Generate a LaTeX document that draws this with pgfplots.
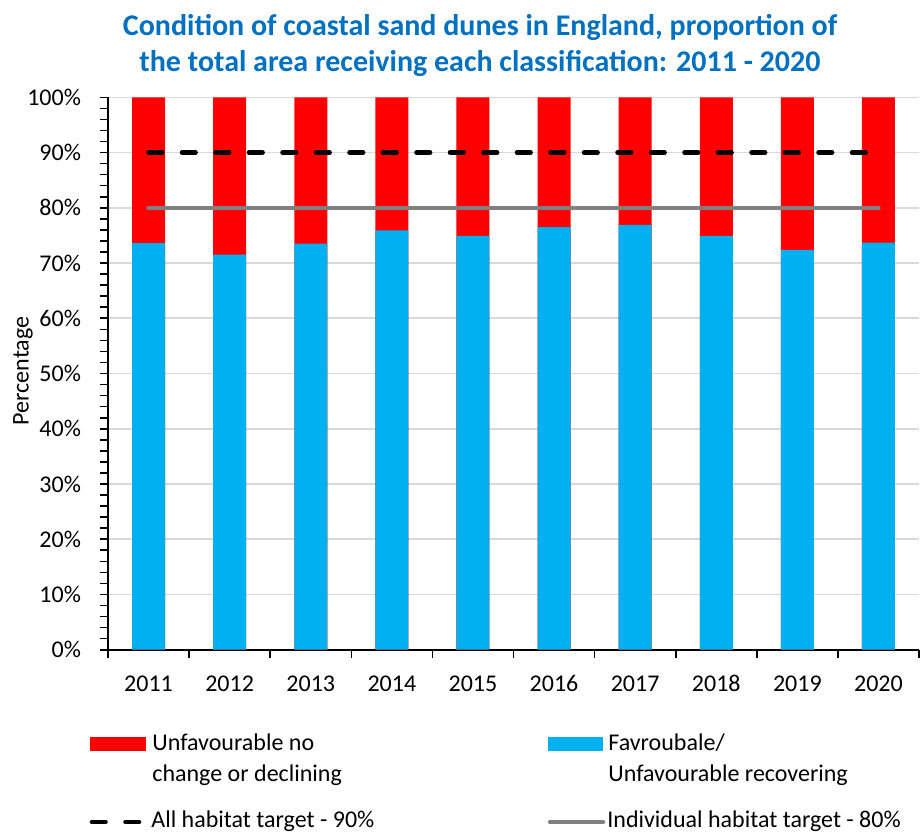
\documentclass[border=0pt]{standalone}
\usepackage{pgfplots}
\pgfplotsset{compat=1.18}
\usepackage{fontspec}
\setmainfont{Carlito}
\definecolor{cred}{HTML}{FF0000}
\definecolor{cblue}{HTML}{00B0F0}
\definecolor{ctitle}{HTML}{0070C0}
\definecolor{cgrey}{HTML}{808080}
\definecolor{cgrid}{HTML}{D9D9D9}
\begin{document}
\begin{tikzpicture}
\begin{scope}[x=0.5pt,y=-0.5pt]
\path[use as bounding box] (0,0) rectangle (923,832);
\end{scope}
\begin{axis}[
  at={(54pt,-324.85pt)}, anchor=south west,
  scale only axis, width=405.5pt, height=276.2pt,
  xmin=-0.5, xmax=9.5, ymin=0, ymax=100,
  axis x line*=bottom, axis y line*=left,
  axis line style={-, line width=0.8pt, black},
  xtick={0,...,9},
  xticklabels={2011,2012,2013,2014,2015,2016,2017,2018,2019,2020},
  major x tick style={draw=none},
  minor xtick={-0.5,0.5,...,9.5},
  ytick={0,10,...,100},
  minor y tick num=4,
  tick align=outside,
  major tick length=4pt, minor tick length=4pt,
  every tick/.style={black, line width=0.8pt},
  yticklabel={\pgfmathprintnumber{\tick}\%},
  ymajorgrids,
  major grid style={cgrid, line width=0.8pt},
  tick label style={font=\fontsize{12}{14}\selectfont},
  xticklabel style={text height=8.5pt, text depth=0pt, yshift=-5pt},
  yticklabel style={xshift=-6pt},
  /pgf/number format/assume math mode=true,
  clip=false,
]
\addplot[ybar, bar width=16.5pt, bar shift=0pt, fill=cred, draw=none]
  coordinates {(0,100) (1,100) (2,100) (3,100) (4,100) (5,100) (6,100) (7,100) (8,100) (9,100)};
\addplot[ybar, bar width=16.5pt, bar shift=0pt, fill=cblue, draw=none]
  coordinates {(0,73.6) (1,71.5) (2,73.5) (3,75.9) (4,74.9) (5,76.5) (6,76.9) (7,74.9) (8,72.4) (9,73.7)};
\addplot[sharp plot, black, line width=2.3pt, line cap=round, dash pattern=on 6.75pt off 10pt]
  coordinates {(0,90) (1,90) (2,90) (3,90) (4,90) (5,90) (6,90) (7,90) (8,90) (9,90)};
\addplot[sharp plot, cgrey, line width=2.2pt, line cap=round]
  coordinates {(0,80) (1,80) (2,80) (3,80) (4,80) (5,80) (6,80) (7,80) (8,80) (9,80)};
\end{axis}
\begin{scope}[x=0.5pt,y=-0.5pt]
\node[rotate=90, inner sep=0pt, font=\fontsize{12}{14}\selectfont] at (23,371) {Percentage};
\node[align=center, font=\fontsize{15}{18}\selectfont\bfseries, text=ctitle] at (480,45)
  {Condition of coastal sand dunes in England, proportion of\\the total area receiving each classification: 2011 - 2020};
% legend
\fill[cred] (90,737) rectangle (146,751);
\node[anchor=base west, align=left, inner sep=0pt, font=\fontsize{12}{15.5}\selectfont] at (152,781.7)
  {Unfavourable no\\change or declining};
\fill[cblue] (548,737) rectangle (603,751);
\node[anchor=base west, align=left, inner sep=0pt, font=\fontsize{12}{15.5}\selectfont] at (608,781.7)
  {Favroubale/\\Unfavourable recovering};
\draw[black, line width=2.3pt, line cap=round, dash pattern=on 6.75pt off 10pt] (92,822) -- (140,822);
\node[anchor=base west, inner sep=0pt, font=\fontsize{12}{15.5}\selectfont] at (151,827)
  {All habitat target - 90\%};
\draw[cgrey, line width=2.2pt, line cap=round] (550,822) -- (603,822);
\node[anchor=base west, inner sep=0pt, font=\fontsize{12}{15.5}\selectfont] at (607,827)
  {Individual habitat target - 80\%};
\end{scope}
\end{tikzpicture}
\end{document}
